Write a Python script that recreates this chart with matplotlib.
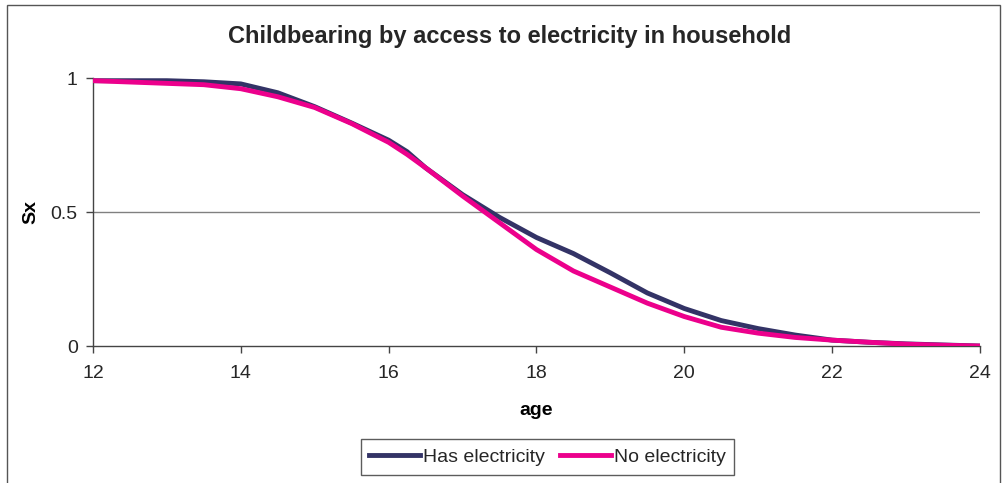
import matplotlib
matplotlib.use("Agg")
import matplotlib.pyplot as plt
from matplotlib.patches import Rectangle

plt.rcParams["font.family"] = ["Liberation Sans", "DejaVu Sans"]
plt.rcParams["text.color"] = "#262626"

# ── Data ───────────────────────────────────────────────────────────────────
age = [12, 12.5, 13, 13.5, 14, 14.5, 15, 15.5, 16, 16.25, 16.5, 17, 17.5,
       18, 18.5, 19, 19.5, 20, 20.5, 21, 21.5, 22, 22.5, 23, 23.5, 24]
has_elec = [0.99, 0.99, 0.99, 0.986, 0.978, 0.945, 0.893, 0.832, 0.768, 0.725,
            0.665, 0.565, 0.48, 0.405, 0.345, 0.273, 0.198, 0.14, 0.095,
            0.065, 0.041, 0.022, 0.014, 0.008, 0.004, 0.0]
no_elec = [0.99, 0.985, 0.98, 0.975, 0.96, 0.93, 0.89, 0.83, 0.76, 0.715,
           0.665, 0.56, 0.46, 0.36, 0.28, 0.22, 0.16, 0.11, 0.07,
           0.048, 0.032, 0.022, 0.014, 0.007, 0.003, 0.0]
xticks = [12, 14, 16, 18, 20, 22, 24]
yticks = [0, 0.5, 1]
ytick_labels = ["0", "0.5", "1"]

NAVY = "#333366"
PINK = "#EC008C"

fig = plt.figure(figsize=(10.03, 4.83), dpi=100)
fig.patches.append(Rectangle((0.007, -0.01), 0.99, 1.0, transform=fig.transFigure,
                             fill=False, edgecolor="#555555", linewidth=1.0))
ax = fig.add_axes([0.0927, 0.2836, 0.8843, 0.5549])

ax.plot(age, has_elec, color=NAVY, linewidth=3.5, label="Has electricity",
        zorder=3)
ax.plot(age, no_elec, color=PINK, linewidth=3.5, label="No electricity",
        zorder=4)

ax.set_xlim(12, 24)
ax.set_ylim(0, 1)
ax.set_xticks(xticks)
ax.set_yticks(yticks)
ax.set_yticklabels(ytick_labels)
ax.tick_params(axis="both", labelsize=14, labelcolor="#262626",
               color="#444444", direction="out", length=5, width=1)
ax.tick_params(axis="x", pad=9)
ax.tick_params(axis="y", pad=6)
ax.axhline(0.5, color="#808080", linewidth=1.0, zorder=1)

for s in ("top", "right"):
    ax.spines[s].set_visible(False)
for s in ("left", "bottom"):
    ax.spines[s].set_color("#444444")
    ax.spines[s].set_linewidth(1.0)

ax.set_xlabel("age", fontsize=14, fontweight="bold", labelpad=14)
ax.set_ylabel("Sx", fontsize=14, fontweight="bold", labelpad=8)
fig.text(0.5085, 0.925, "Childbearing by access to electricity in household",
         fontsize=17, fontweight="bold", ha="center", va="center")

leg = fig.legend(loc="center", bbox_to_anchor=(0.5459, 0.0538), ncol=2,
                 fontsize=14, frameon=True, fancybox=False, handlelength=2.6,
                 handletextpad=0.15, columnspacing=0.8, borderpad=0.45)
leg.get_frame().set_edgecolor("#333333")
leg.get_frame().set_linewidth(1.0)

fig.savefig("out.png", dpi=100)
